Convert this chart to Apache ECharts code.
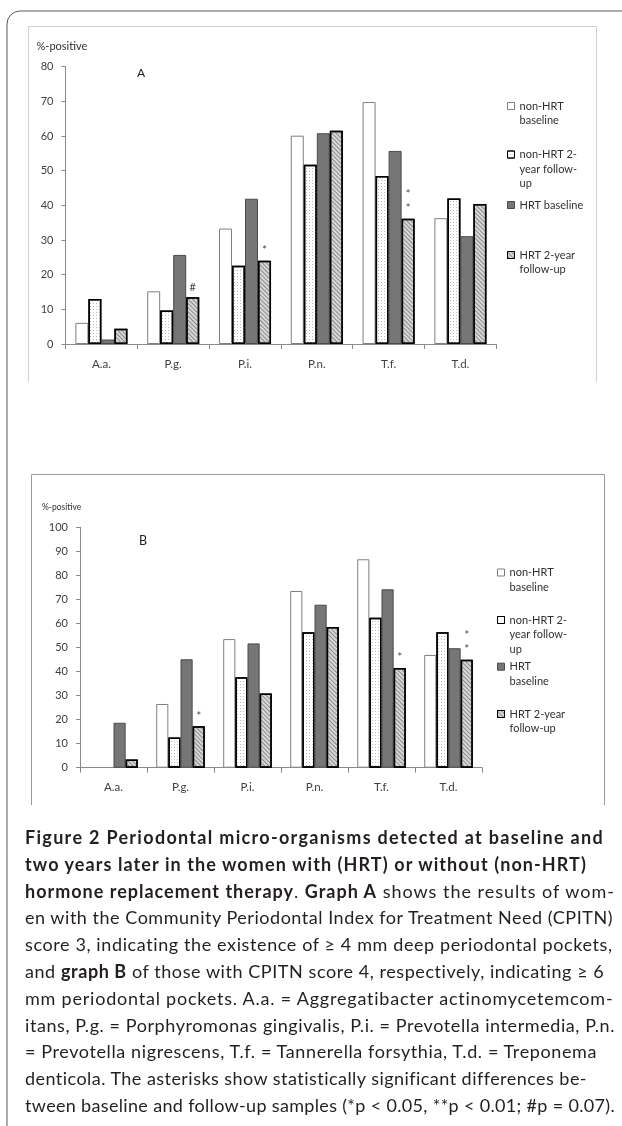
<!DOCTYPE html>
<html>
<head>
<meta charset="utf-8">
<script src="https://cdn.jsdelivr.net/npm/echarts@6/dist/echarts.min.js"></script>
<style>
html,body{margin:0;padding:0;background:#fff;}
#chart{position:absolute;left:0;top:0;width:622px;height:1126px;}
#caption{position:absolute;left:0;top:0;width:622px;height:1126px;pointer-events:none;font-family:Lato,'Open Sans',sans-serif;color:#231f20;}
.ln{position:absolute;left:25px;white-space:nowrap;font-size:18px;line-height:26.7px;}
.ln b{font-weight:700;}
</style>
</head>
<body>
<div id="chart"></div>
<div id="caption"></div>
<script>
// ---------------- data ----------------
const categories = ['A.a.', 'P.g.', 'P.i.', 'P.n.', 'T.f.', 'T.d.'];
const seriesNames = ['non-HRT baseline', 'non-HRT 2-year follow-up', 'HRT baseline', 'HRT 2-year follow-up'];

// Graph A (CPITN score 3)
const nonHrtBaseA   = [6.1, 15.2, 33.3, 60.1, 69.8, 36.3];
const nonHrtFollowA = [13.0, 9.7, 22.6, 51.7, 48.5, 42.0];
const hrtBaseA      = [1.3, 25.7, 41.9, 60.8, 55.7, 31.1];
const hrtFollowA    = [4.4, 13.5, 24.0, 61.5, 36.1, 40.4];
const marksA        = ['', '#', '*', '', '**', ''];

// Graph B (CPITN score 4)
const nonHrtBaseB   = [0, 26.5, 53.5, 73.5, 86.7, 46.9];
const nonHrtFollowB = [0, 12.6, 37.6, 56.3, 62.4, 56.3];
const hrtBaseB      = [18.7, 45.1, 51.7, 67.8, 74.2, 49.7];
const hrtFollowB    = [3.4, 17.2, 30.9, 58.5, 41.5, 44.9];
const marksB        = ['', '*', '', '', '*', '**'];

const legendLabelsA = ['non-HRT\nbaseline', 'non-HRT 2-\nyear follow-\nup', 'HRT baseline', 'HRT 2-year\nfollow-up'];
const legendLabelsB = ['non-HRT\nbaseline', 'non-HRT 2-\nyear follow-\nup', 'HRT\nbaseline', 'HRT 2-year\nfollow-up'];

const captionLines = [
  [['Figure 2 Periodontal micro-organisms detected at baseline and', 1]],
  [['two years later in the women with (HRT) or without (non-HRT)', 1]],
  [['hormone replacement therapy', 1], ['. ', 0], ['Graph A', 1], [' shows the results of wom-', 0]],
  [['en with the Community Periodontal Index for Treatment Need (CPITN)', 0]],
  [['score 3, indicating the existence of \u2265 4 mm deep periodontal pockets,', 0]],
  [['and ', 0], ['graph B', 1], [' of those with CPITN score 4, respectively, indicating \u2265 6', 0]],
  [['mm periodontal pockets. A.a. = Aggregatibacter actinomycetemcom-', 0]],
  [['itans, P.g. = Porphyromonas gingivalis, P.i. = Prevotella intermedia, P.n.', 0]],
  [['= Prevotella nigrescens, T.f. = Tannerella forsythia, T.d. = Treponema', 0]],
  [['denticola. The asterisks show statistically significant differences be-', 0]],
  [['tween baseline and follow-up samples (*p < 0.05, **p < 0.01; #p = 0.07).', 0]]
];

// ---------------- layout / styles ----------------
const captionRight = [604, 587, 615, 613, 613, 605, 614, 615, 597, 587, 615];
const captionTop0 = 824, captionStep = 26.8;

const FONT = 'Lato, "Open Sans", sans-serif';
const dotDecal = {symbol: 'rect', symbolSize: 1, color: '#bdbdbd', dashArrayX: [1, 2], dashArrayY: [1, 2], rotation: 0};
const hatchDecal = {symbol: 'rect', symbolSize: 1, color: '#8a8a8a', dashArrayX: [1, 0], dashArrayY: [1, 2], rotation: Math.PI / 4};
const barStyles = [
  {color: '#ffffff', borderColor: '#7f7f7f', borderWidth: 1},
  {color: '#ffffff', borderColor: '#000000', borderWidth: 1.5, decal: dotDecal},
  {color: '#767676', borderColor: '#4a4a4a', borderWidth: 1},
  {color: '#d8d8d8', borderColor: '#000000', borderWidth: 1.5, decal: hatchDecal}
];

const charts = [
  {grid: {left: 65.5, top: 66.7, width: 430.8, height: 277.3}, max: 80,
   data: [nonHrtBaseA, nonHrtFollowA, hrtBaseA, hrtFollowA], marks: marksA,
   legendLabels: legendLabelsA, legendLeft: 507, legendFirst: [106, 154.5, 205, 255]},
  {grid: {left: 80, top: 527.3, width: 402, height: 240.4}, max: 100,
   data: [nonHrtBaseB, nonHrtFollowB, hrtBaseB, hrtFollowB], marks: marksB,
   legendLabels: legendLabelsB, legendLeft: 497, legendFirst: [572.5, 620, 666.7, 714]}
];

const LH = 14.5;
const grids = [], xAxes = [], yAxes = [], series = [], legends = [];
charts.forEach((c, k) => {
  grids.push(c.grid);
  xAxes.push({
    type: 'category', gridIndex: k, data: categories,
    axisLine: {lineStyle: {color: '#8a8a8a', width: 1}},
    axisTick: {show: true, length: 5, lineStyle: {color: '#8a8a8a'}},
    axisLabel: {color: '#404040', fontFamily: FONT, fontSize: 11.5, margin: 14}
  });
  yAxes.push({
    type: 'value', gridIndex: k, min: 0, max: c.max, interval: 10,
    axisLine: {show: true, lineStyle: {color: '#8a8a8a', width: 1}},
    axisTick: {show: true, length: 4, lineStyle: {color: '#8a8a8a'}},
    splitLine: {show: false},
    axisLabel: {color: '#404040', fontFamily: FONT, fontSize: 11, margin: 12}
  });
  c.data.forEach((vals, s) => {
    const st = barStyles[s];
    const ser = {
      type: 'bar', name: seriesNames[s], xAxisIndex: k, yAxisIndex: k,
      barGap: '0%', barCategoryGap: '27.5%',
      itemStyle: st,
      emphasis: {disabled: true},
      data: vals.map(v => v === 0 ? {value: 0, itemStyle: {borderWidth: 0}} : v)
    };
    if (s === 3) {
      ser.label = {
        show: true, position: 'top', distance: 3,
        formatter: p => c.marks[p.dataIndex].split('').join('\n'),
        fontFamily: FONT, fontSize: 11, lineHeight: 14.5, color: '#444'
      };
    }
    series.push(ser);
    const lines = c.legendLabels[s].split('\n');
    const n = lines.length;
    legends.push({
      orient: 'vertical', left: c.legendLeft, top: c.legendFirst[s] - (2 * n - 1) * LH / 2,
      padding: 0, itemWidth: 7, itemHeight: 7, selectedMode: false, icon: 'rect',
      itemStyle: {borderWidth: 1},
      data: [seriesNames[s]],
      formatter: () => lines.map(l => '{t|' + l + '}').join('\n'),
      textStyle: {
        fontFamily: FONT, fontSize: 11, lineHeight: LH, color: '#303030',
        padding: [(n - 1) * LH, 0, 0, 0],
        rich: {t: {fontFamily: FONT, fontSize: 11, lineHeight: LH, color: '#303030'}}
      }
    });
  });
});

const graphics = [
  // outer figure frame (rounded top-left corner)
  {type: 'polyline', silent: true, shape: {points: [[7, 1126], [7, 24]]}, style: {stroke: '#5a5a5a', fill: null, lineWidth: 1}},
  {type: 'arc', silent: true, shape: {cx: 20, cy: 24, r: 13, startAngle: Math.PI, endAngle: Math.PI * 1.5}, style: {stroke: '#5a5a5a', fill: null, lineWidth: 1}},
  {type: 'polyline', silent: true, shape: {points: [[20, 11], [622, 11]]}, style: {stroke: '#5a5a5a', fill: null, lineWidth: 1}},
  // chart frames
  {type: 'polyline', silent: true, shape: {points: [[28.5, 382], [28.5, 26.5], [596.5, 26.5], [596.5, 382]]}, style: {stroke: '#d0d0d0', fill: null, lineWidth: 1}},
  {type: 'polyline', silent: true, shape: {points: [[31.5, 805], [31.5, 474.5], [604.5, 474.5], [604.5, 805]]}, style: {stroke: '#9a9a9a', fill: null, lineWidth: 1}},
  // titles
  {type: 'text', silent: true, x: 36.5, y: 46.7, style: {text: '%-positive', fontFamily: FONT, fontSize: 11, fill: '#303030', verticalAlign: 'middle'}},
  {type: 'text', silent: true, x: 137, y: 73, style: {text: 'A', fontFamily: FONT, fontSize: 12, fill: '#222', verticalAlign: 'middle'}},
  {type: 'text', silent: true, x: 42, y: 507, style: {text: '%-positive', fontFamily: FONT, fontSize: 8.5, fill: '#303030', verticalAlign: 'middle'}},
  {type: 'text', silent: true, x: 139, y: 541, style: {text: 'B', fontFamily: FONT, fontSize: 12.5, fill: '#222', verticalAlign: 'middle'}}
];

const chart = echarts.init(document.getElementById('chart'), null, {renderer: 'canvas'});
chart.setOption({
  animation: false,
  backgroundColor: '#fff',
  grid: grids, xAxis: xAxes, yAxis: yAxes, series: series, legend: legends,
  graphic: graphics
});

// ---------------- caption ----------------
const cap = document.getElementById('caption');
captionLines.forEach((segs, i) => {
  const div = document.createElement('div');
  div.className = 'ln';
  div.style.top = (captionTop0 + i * captionStep) + 'px';
  segs.forEach(([t, bold]) => {
    const el = document.createElement(bold ? 'b' : 'span');
    el.textContent = t;
    div.appendChild(el);
  });
  cap.appendChild(div);
  const w = div.getBoundingClientRect().width;
  const len = segs.reduce((a, s) => a + s[0].length, 0);
  const target = captionRight[i] - 25;
  div.style.letterSpacing = ((target - w) / len) + 'px';
});
</script>
</body>
</html>
